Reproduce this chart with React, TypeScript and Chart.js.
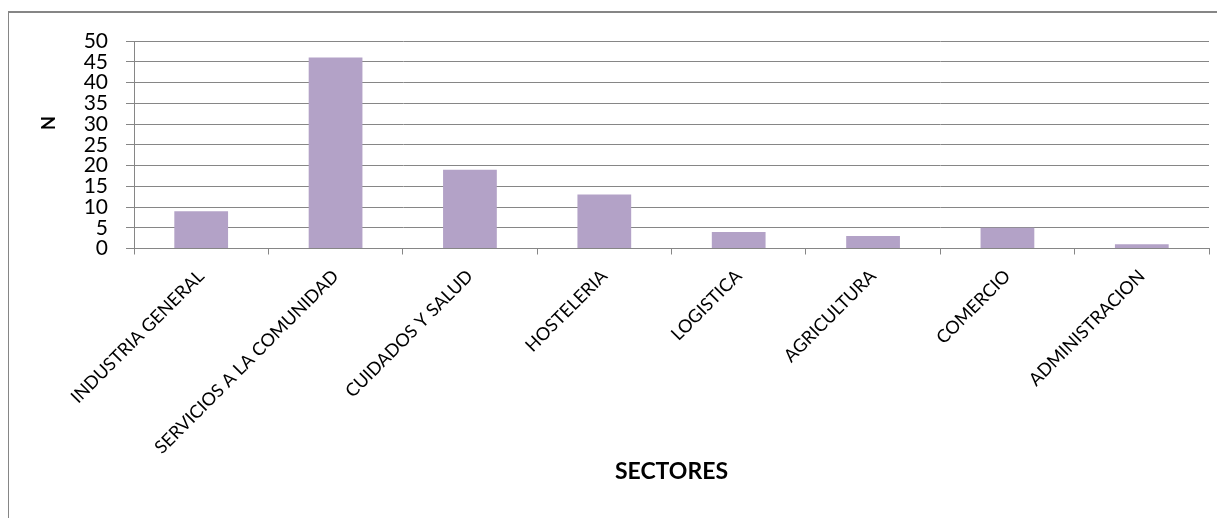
import React, { useEffect, useRef } from 'react';
import { Chart, registerables } from 'chart.js';

Chart.register(...registerables);

const categories = [
  'INDUSTRIA GENERAL',
  'SERVICIOS A LA COMUNIDAD',
  'CUIDADOS Y SALUD',
  'HOSTELERIA',
  'LOGISTICA',
  'AGRICULTURA',
  'COMERCIO',
  'ADMINISTRACION',
];
const values = [9, 46, 19, 13, 4, 3, 5, 1];
const yMin = 0;
const yMax = 50;
const yStep = 5;
const yTitle = 'N';
const xTitle = 'SECTORES';

const GRID = '#868686';
const BAR = '#B3A2C7';
const FONT = 'Lato, "Open Sans", sans-serif';

const framePlugin = {
  id: 'frame',
  beforeDraw(chart: any) {
    const ctx = chart.ctx;
    ctx.save();
    ctx.fillStyle = '#ffffff';
    ctx.fillRect(0, 0, chart.width, chart.height);
    ctx.strokeStyle = GRID;
    ctx.lineWidth = 2;
    ctx.beginPath();
    ctx.moveTo(7, 12);
    ctx.lineTo(chart.width, 12);
    ctx.moveTo(8, 11);
    ctx.lineTo(8, chart.height);
    ctx.stroke();
    ctx.restore();
  },
  afterDraw(chart: any) {
    const ctx = chart.ctx;
    ctx.save();
    ctx.translate(49, 123);
    ctx.rotate(-Math.PI / 2);
    ctx.fillStyle = '#000';
    ctx.font = 'bold 18px ' + FONT;
    ctx.textAlign = 'center';
    ctx.textBaseline = 'middle';
    ctx.fillText(yTitle, 0, 0);
    ctx.restore();
  },
};

export default function App() {
  const ref = useRef<HTMLCanvasElement | null>(null);

  useEffect(() => {
    if (!ref.current) return;
    const chart = new Chart(ref.current, {
      type: 'bar',
      data: {
        labels: categories,
        datasets: [
          {
            data: values,
            backgroundColor: BAR,
            borderWidth: 0,
            barPercentage: 0.4,
            categoryPercentage: 1,
          },
        ],
      },
      options: {
        animation: false,
        responsive: true,
        maintainAspectRatio: false,
        layout: { padding: { top: 41, right: 16, left: 0, bottom: 0 } },
        plugins: {
          legend: { display: false },
          tooltip: { enabled: false },
        },
        scales: {
          x: {
            afterFit: (scale: any) => {
              scale.height = 277.5;
            },
            grid: {
              display: true,
              drawOnChartArea: false,
              drawTicks: true,
              tickLength: 6,
              color: GRID,
              offset: true,
            },
            border: { display: true, color: GRID, width: 1 },
            ticks: {
              autoSkip: false,
              minRotation: 45,
              maxRotation: 45,
              color: '#000',
              padding: 11,
              font: { family: FONT, size: 18 },
            },
            title: {
              display: true,
              text: xTitle,
              color: '#000',
              font: { family: FONT, size: 23, weight: 'bold' },
              padding: { top: 0, bottom: 41 },
            },
          },
          y: {
            min: yMin,
            max: yMax,
            afterFit: (scale: any) => {
              scale.width = 134;
            },
            grid: {
              color: GRID,
              drawTicks: true,
              tickLength: 8,
            },
            border: { display: true, color: GRID, width: 1 },
            ticks: {
              stepSize: yStep,
              autoSkip: false,
              color: '#000',
              padding: 18,
              font: { family: FONT, size: 21, lineHeight: 1 },
            },
          },
        },
      },
      plugins: [framePlugin],
    });
    return () => chart.destroy();
  }, []);

  return (
    <div style={{ margin: '-8px', height: 526, position: 'relative' }}>
      <canvas ref={ref} />
    </div>
  );
}
